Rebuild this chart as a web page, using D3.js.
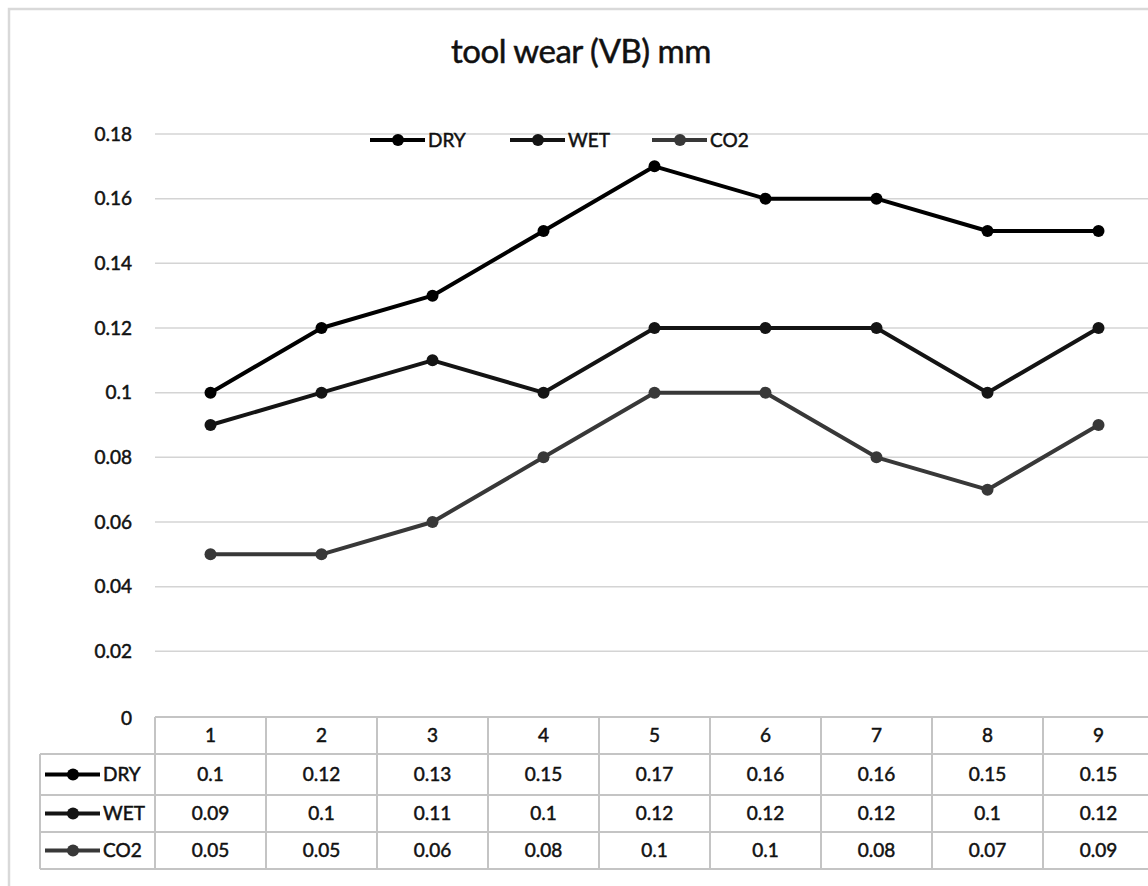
<!DOCTYPE html>
<html>
<head>
<meta charset="utf-8">
<script src="https://cdn.jsdelivr.net/npm/d3@7"></script>
<style>
  body { margin: 0; background: #fff; }
  text { font-family: Lato, "Open Sans", sans-serif; fill: #111; stroke: #111; stroke-width: 0.5px; }
</style>
</head>
<body>
<div id="vis"></div>
<script>
(function() {
    var width = 1148,
        height = 886;

    // data
    var categories = ["1", "2", "3", "4", "5", "6", "7", "8", "9"];
    var seriesNames = ["DRY", "WET", "CO2"];
    var dry = [0.1, 0.12, 0.13, 0.15, 0.17, 0.16, 0.16, 0.15, 0.15];
    var wet = [0.09, 0.1, 0.11, 0.1, 0.12, 0.12, 0.12, 0.1, 0.12];
    var co2 = [0.05, 0.05, 0.06, 0.08, 0.1, 0.1, 0.08, 0.07, 0.09];
    var yTicks = [0, 0.02, 0.04, 0.06, 0.08, 0.1, 0.12, 0.14, 0.16, 0.18];

    var colors = {
        DRY: "#000000",
        WET: "#141414",
        CO2: "#383838",
        grid: "#d4d4d4",
        table: "#c4c4c4",
        frame: "#d9d9d9"
    };

    var series = [
        { name: "DRY", values: dry },
        { name: "WET", values: wet },
        { name: "CO2", values: co2 }
    ];

    var svg = d3.select("#vis")
        .append("svg")
        .attr("width", width)
        .attr("height", height);

    // outer chart frame (cut off right and bottom)
    svg.append("path")
        .attr("d", "M9," + height + "V9H" + width)
        .attr("fill", "none")
        .attr("stroke", colors.frame)
        .attr("stroke-width", 2.5);

    var x = d3.scaleBand().domain(categories).range([155, 1154]);
    var y = d3.scaleLinear().domain([0, 0.18]).range([716, 134]);

    // title
    svg.append("text")
        .attr("x", 581)
        .attr("y", 63)
        .attr("text-anchor", "middle")
        .style("font-size", "33px")
        .style("letter-spacing", "-0.5px")
        .text("tool wear (VB) mm");

    // gridlines
    svg.append("g")
        .selectAll("line")
        .data(yTicks.filter(function(d) { return d > 0; }))
        .enter().append("line")
        .attr("x1", 155)
        .attr("x2", width)
        .attr("y1", function(d) { return y(d); })
        .attr("y2", function(d) { return y(d); })
        .attr("stroke", colors.grid)
        .attr("stroke-width", 1.5);

    // y labels
    svg.append("g")
        .selectAll("text")
        .data(yTicks)
        .enter().append("text")
        .attr("x", 132)
        .attr("y", function(d) { return y(d) + (d === 0 ? 2 : 0); })
        .attr("text-anchor", "end")
        .attr("dy", "0.35em")
        .style("font-size", "19px")
        .text(function(d) { return d === 0 ? "0" : String(+d.toFixed(2)); });

    // lines
    var line = d3.line()
        .x(function(d, i) { return x(categories[i]) + x.bandwidth() / 2; })
        .y(function(d) { return y(d); });

    series.forEach(function(s) {
        var g = svg.append("g");
        g.append("path")
            .datum(s.values)
            .attr("d", line)
            .attr("fill", "none")
            .attr("stroke", colors[s.name])
            .attr("stroke-width", 4)
            .attr("stroke-linejoin", "round");
        g.selectAll("circle")
            .data(s.values)
            .enter().append("circle")
            .attr("cx", function(d, i) { return x(categories[i]) + x.bandwidth() / 2; })
            .attr("cy", function(d) { return y(d); })
            .attr("r", 6)
            .attr("fill", colors[s.name]);
    });

    // legend
    function legendKey(g, name, x0, cy) {
        g.append("line")
            .attr("x1", x0).attr("x2", x0 + 55)
            .attr("y1", cy).attr("y2", cy)
            .attr("stroke", colors[name])
            .attr("stroke-width", 4);
        g.append("circle")
            .attr("cx", x0 + 28).attr("cy", cy)
            .attr("r", 6)
            .attr("fill", colors[name]);
        g.append("text")
            .attr("x", x0 + 58)
            .attr("y", cy)
            .attr("dy", "0.35em")
            .style("font-size", "19px")
            .text(name);
    }

    var legend = svg.append("g");
    var legendX = [370, 510, 652];
    seriesNames.forEach(function(n, i) { legendKey(legend, n, legendX[i], 140); });

    // data table
    var tbl = svg.append("g");
    var rowTops = [717, 754, 795, 832, 869];
    var tableLeft = 40;

    function hline(x1, x2, yy) {
        tbl.append("line")
            .attr("x1", x1).attr("x2", x2)
            .attr("y1", yy).attr("y2", yy)
            .attr("stroke", colors.table)
            .attr("stroke-width", 2);
    }
    function vline(xx, y1, y2) {
        tbl.append("line")
            .attr("x1", xx).attr("x2", xx)
            .attr("y1", y1).attr("y2", y2)
            .attr("stroke", colors.table)
            .attr("stroke-width", 2);
    }

    hline(155, width, rowTops[0]);
    for (var r = 1; r < rowTops.length; r++) hline(tableLeft, width, rowTops[r]);
    vline(tableLeft, rowTops[1], rowTops[4]);
    categories.forEach(function(c) { vline(x(c), rowTops[0], rowTops[4]); });

    // header
    tbl.selectAll(".hdr")
        .data(categories)
        .enter().append("text")
        .attr("class", "hdr")
        .attr("x", function(d) { return x(d) + x.bandwidth() / 2; })
        .attr("y", (rowTops[0] + rowTops[1]) / 2)
        .attr("dy", "0.35em")
        .attr("text-anchor", "middle")
        .style("font-size", "19px")
        .text(function(d) { return d; });

    series.forEach(function(s, si) {
        var cy = (rowTops[si + 1] + rowTops[si + 2]) / 2;
        legendKey(tbl, s.name, 45, cy);
        tbl.selectAll(".cell" + si)
            .data(s.values)
            .enter().append("text")
            .attr("x", function(d, i) { return x(categories[i]) + x.bandwidth() / 2; })
            .attr("y", cy)
            .attr("dy", "0.35em")
            .attr("text-anchor", "middle")
            .style("font-size", "19px")
            .text(function(d) { return d; });
    });
})();
</script>
</body>
</html>
